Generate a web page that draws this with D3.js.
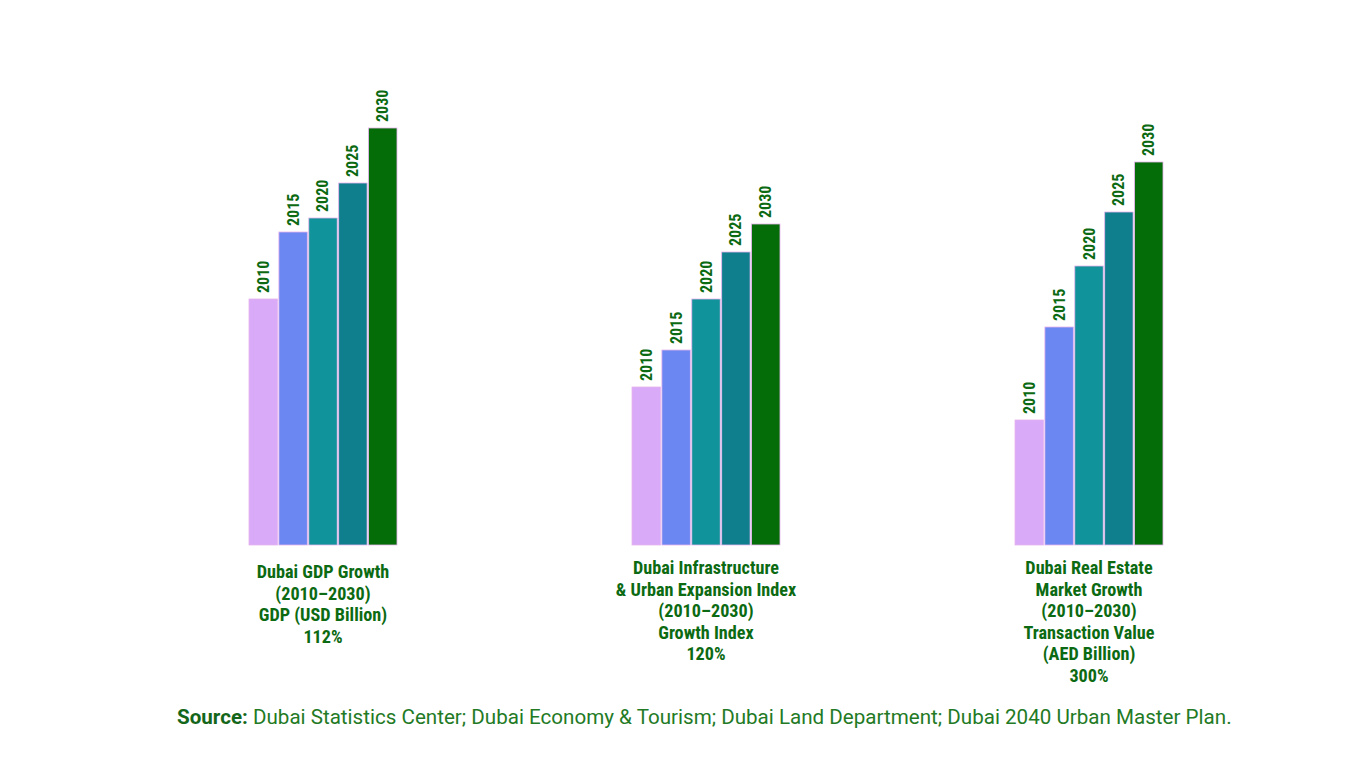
<!DOCTYPE html>
<html>
<head>
<meta charset="utf-8">
<script src="https://cdn.jsdelivr.net/npm/d3@7"></script>
<style>
  body { margin: 0; background: #fff; }
  svg { display: block; }
</style>
</head>
<body>
<svg></svg>
<script>
// chart data (relative heights, no axis shown)
const years = ["2010", "2015", "2020", "2025", "2030"];
const groups = ["gdp", "infra", "realestate"];
const gdpValues = [246, 313, 327, 362, 417];
const infraValues = [158, 195, 246, 293, 321];
const realEstateValues = [125, 218, 279, 333, 383];
const titles = [
  ["Dubai GDP Growth", "(2010\u20132030)", "GDP (USD Billion)", "112%"],
  ["Dubai Infrastructure", "& Urban Expansion Index", "(2010\u20132030)", "Growth Index", "120%"],
  ["Dubai Real Estate", "Market Growth", "(2010\u20132030)", "Transaction Value", "(AED Billion)", "300%"]
];
const colors = ["#d8aaf7", "#6a87f2", "#10939a", "#0f7f8e", "#056d07"];

const svgWidth = 1365, svgHeight = 768;
const baseline = 545;
const labelFont = "'Roboto Condensed', 'Liberation Sans Narrow', 'Arial Narrow', Roboto, sans-serif";
const green = "#0c6a12";

const svg = d3.select("svg")
    .attr("width", svgWidth)
    .attr("height", svgHeight);

const series = [gdpValues, infraValues, realEstateValues];

const x0 = d3.scaleBand().domain(groups).range([249, 1163]).paddingInner(0.6136).paddingOuter(0);
const x1 = d3.scaleBand().domain(years).range([0, x0.bandwidth()]).paddingInner(0.05);
const y = d3.scaleLinear().domain([0, 450]).range([baseline, baseline - 450]);

const g = svg.selectAll("g.group")
    .data(groups)
    .enter()
    .append("g")
    .attr("class", "group")
    .attr("transform", function(d) { return "translate(" + x0(d) + ",0)"; });

g.selectAll("rect")
    .data(function(d, i) { return series[i].map(function(v, j) { return { year: years[j], value: v, c: colors[j] }; }); })
    .enter()
    .append("rect")
    .attr("x", function(d) { return x1(d.year); })
    .attr("y", function(d) { return y(d.value); })
    .attr("width", x1.bandwidth())
    .attr("height", function(d) { return baseline - y(d.value); })
    .attr("fill", function(d) { return d.c; })
    .attr("stroke", "#e7b3ee")
    .attr("stroke-width", 0.8);

// year labels rotated above each bar
g.selectAll("text.year")
    .data(function(d, i) { return series[i].map(function(v, j) { return { year: years[j], value: v }; }); })
    .enter()
    .append("text")
    .attr("class", "year")
    .attr("transform", function(d) {
      return "translate(" + (x1(d.year) + x1.bandwidth() / 2 + 5.5) + "," + (y(d.value) - 6) + ") rotate(-90)";
    })
    .style("font-family", labelFont)
    .style("font-weight", "bold")
    .style("font-size", "16px")
    .attr("fill", green)
    .text(function(d) { return d.year; });

// titles under the groups
const firstLine = [578, 574, 574];
g.append("text")
    .attr("text-anchor", "middle")
    .style("font-family", labelFont)
    .style("font-weight", "bold")
    .style("font-size", "18.2px")
    .attr("fill", green)
    .each(function(d, i) {
      const t = d3.select(this);
      titles[i].forEach(function(line, k) {
        t.append("tspan")
            .attr("x", x0.bandwidth() / 2)
            .attr("y", firstLine[i] + k * 21.6)
            .text(line);
      });
    });

const src = svg.append("text")
    .attr("x", 177)
    .attr("y", 724)
    .style("font-family", "Roboto, sans-serif")
    .style("font-size", "20.6px")
    .attr("fill", "#237a25");
src.append("tspan").style("font-weight", "bold").attr("fill", "#13661a").text("Source:");
src.append("tspan").text(" Dubai Statistics Center; Dubai Economy & Tourism; Dubai Land Department; Dubai 2040 Urban Master Plan.");
</script>
</body>
</html>
